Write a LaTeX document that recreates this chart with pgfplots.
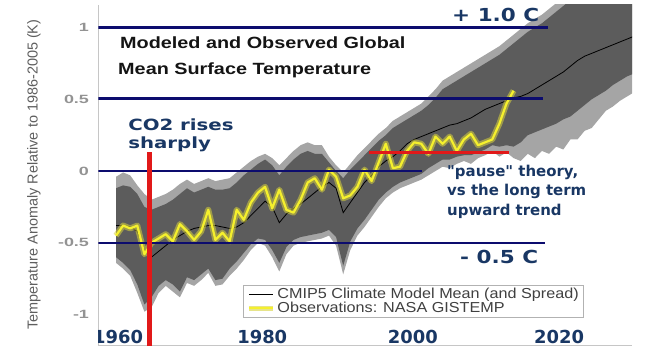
\documentclass[border=0pt]{standalone}
\usepackage{pgfplots}
\pgfplotsset{compat=1.18}
\usepackage{pgfplotstable}
\usepgfplotslibrary{fillbetween}
\usepackage{graphicx}
\usepackage{fontspec}
\setmainfont{Liberation Sans}
\newfontfamily\dejavu{DejaVu Sans}
\definecolor{navyl}{RGB}{12,12,110}
\definecolor{annblue}{RGB}{25,55,100}
\definecolor{redl}{RGB}{225,25,25}
\definecolor{bandout}{RGB}{165,165,165}
\definecolor{bandin}{RGB}{92,92,92}
\definecolor{ycore}{RGB}{245,240,45}
\definecolor{yhalo}{RGB}{215,210,60}
\definecolor{tickgray}{RGB}{95,95,95}

\pgfplotstableread{
yr lo2 lo1 hi1 hi2
1960 -0.64 -0.60 -0.12 -0.04
1961 -0.68 -0.64 -0.10 -0.01
1962 -0.73 -0.69 -0.11 -0.03
1963 -0.85 -0.79 -0.16 -0.10
1964 -0.98 -0.93 -0.25 -0.16
1965 -0.95 -0.88 -0.27 -0.20
1966 -0.85 -0.80 -0.25 -0.18
1967 -0.80 -0.76 -0.23 -0.16
1968 -0.84 -0.79 -0.20 -0.13
1969 -0.88 -0.84 -0.16 -0.09
1970 -0.78 -0.74 -0.12 -0.06
1971 -0.80 -0.76 -0.15 -0.09
1972 -0.76 -0.72 -0.13 -0.07
1973 -0.71 -0.68 -0.11 -0.05
1974 -0.80 -0.76 -0.13 -0.07
1975 -0.79 -0.75 -0.13 -0.06
1976 -0.73 -0.68 -0.12 -0.05
1977 -0.68 -0.63 -0.08 -0.01
1978 -0.62 -0.57 -0.03 0.03
1979 -0.55 -0.51 0.01 0.07
1980 -0.50 -0.47 0.05 0.10
1981 -0.52 -0.48 0.08 0.12
1982 -0.60 -0.55 0.04 0.09
1983 -0.70 -0.64 -0.03 0.04
1984 -0.58 -0.53 0.03 0.09
1985 -0.52 -0.48 0.08 0.14
1986 -0.50 -0.46 0.12 0.18
1987 -0.49 -0.45 0.14 0.20
1988 -0.48 -0.44 0.12 0.18
1989 -0.47 -0.43 0.12 0.18
1990 -0.45 -0.41 0.06 0.10
1991 -0.52 -0.46 0.00 0.04
1992 -0.72 -0.66 -0.05 -0.01
1993 -0.55 -0.49 0.01 0.05
1994 -0.45 -0.40 0.06 0.11
1995 -0.39 -0.34 0.11 0.16
1996 -0.32 -0.27 0.16 0.21
1997 -0.25 -0.20 0.21 0.26
1998 -0.19 -0.15 0.25 0.30
1999 -0.15 -0.11 0.30 0.35
2000 -0.12 -0.08 0.33 0.38
2001 -0.10 -0.06 0.36 0.41
2002 -0.08 -0.04 0.39 0.44
2003 -0.06 -0.02 0.42 0.47
2004 -0.03 0.02 0.46 0.52
2005 0.00 0.05 0.51 0.57
2006 0.03 0.08 0.57 0.63
2007 0.02 0.08 0.60 0.66
2008 0.05 0.10 0.63 0.69
2009 0.07 0.11 0.66 0.72
2010 0.05 0.11 0.69 0.75
2011 0.09 0.13 0.72 0.78
2012 0.11 0.15 0.75 0.81
2013 0.14 0.18 0.78 0.84
2014 0.10 0.17 0.81 0.87
2015 0.13 0.18 0.85 0.91
2016 0.09 0.17 0.89 0.95
2017 0.07 0.20 0.93 0.99
2018 0.12 0.25 0.97 1.03
2019 0.09 0.27 1.00 1.06
2020 0.14 0.29 1.03 1.09
2021 0.12 0.31 1.07 1.13
2022 0.17 0.33 1.11 1.17
2023 0.15 0.36 1.15 1.21
2024 0.22 0.38 1.19 1.25
2025 0.22 0.42 1.23 1.29
2026 0.28 0.46 1.27 1.33
2027 0.30 0.50 1.31 1.37
2028 0.36 0.53 1.35 1.41
2029 0.42 0.56 1.39 1.45
2030 0.45 0.60 1.43 1.49
2031 0.49 0.63 1.47 1.53
2032 0.52 0.66 1.51 1.57
2033 0.55 0.68 1.55 1.61
}\bands

\pgfplotstableread{
yr m
1960 -0.38
1961 -0.38
1962 -0.39
1963 -0.42
1964 -0.55
1965 -0.60
1966 -0.56
1967 -0.52
1968 -0.48
1969 -0.45
1970 -0.42
1971 -0.40
1972 -0.39
1973 -0.38
1974 -0.38
1975 -0.39
1976 -0.40
1977 -0.39
1978 -0.36
1979 -0.31
1980 -0.26
1981 -0.21
1982 -0.25
1983 -0.36
1984 -0.30
1985 -0.26
1986 -0.23
1987 -0.19
1988 -0.15
1989 -0.11
1990 -0.08
1991 -0.12
1992 -0.29
1993 -0.22
1994 -0.15
1995 -0.08
1996 -0.03
1997 0.03
1998 0.07
1999 0.10
2000 0.14
2001 0.19
2002 0.22
2003 0.24
2004 0.26
2005 0.28
2006 0.30
2007 0.32
2008 0.33
2009 0.35
2010 0.37
2011 0.40
2012 0.43
2013 0.45
2014 0.47
2015 0.49
2016 0.51
2017 0.52
2018 0.54
2019 0.57
2020 0.60
2021 0.63
2022 0.66
2023 0.69
2024 0.73
2025 0.77
2026 0.80
2027 0.82
2028 0.84
2029 0.86
2030 0.88
2031 0.90
2032 0.92
2033 0.94
}\meanT

\pgfplotstableread{
yr o
1960 -0.45
1961 -0.38
1962 -0.40
1963 -0.38
1964 -0.58
1965 -0.50
1966 -0.47
1967 -0.44
1968 -0.49
1969 -0.37
1970 -0.42
1971 -0.48
1972 -0.42
1973 -0.27
1974 -0.48
1975 -0.43
1976 -0.49
1977 -0.27
1978 -0.34
1979 -0.22
1980 -0.15
1981 -0.11
1982 -0.26
1983 -0.13
1984 -0.27
1985 -0.29
1986 -0.20
1987 -0.08
1988 -0.05
1989 -0.13
1990 0.01
1991 -0.04
1992 -0.19
1993 -0.17
1994 -0.11
1995 0.01
1996 -0.07
1997 0.06
1998 0.19
1999 0.02
2000 0.03
2001 0.14
2002 0.20
2003 0.19
2004 0.12
2005 0.24
2006 0.19
2007 0.24
2008 0.14
2009 0.22
2010 0.26
2011 0.18
2012 0.20
2013 0.22
2014 0.33
2015 0.47
2016 0.56
}\obs

\begin{document}
\begin{tikzpicture}[x=1bp,y=1bp]
\begin{axis}[
  at={(98.25bp,6.5bp)}, anchor=south west,
  scale only axis, width=533.9bp, height=340.5bp,
  xmin=1957.5, xmax=2032.7, ymin=-1.2158, ymax=1.157,
  axis x line*=bottom, axis y line*=left,
  axis line style={draw=gray!45, line width=0.9bp, -},
  xtick=\empty,
  ytick={-1,-0.5,0,0.5,1}, yticklabels={-1,-0.5,0,0.5,1},
  major tick length=0pt,
  yticklabel style={font=\fontsize{12}{12}\selectfont\bfseries, text=gray!85, xscale=1.5, anchor=east, inner sep=0pt, xshift=-6bp},
  legend image code/.code={\draw[#1] (0bp,0bp) -- (24bp,0bp);},
  legend style={at={(rel axis cs:0.2713,0.1778)}, anchor=north west, draw=gray!60, line width=0.7bp, fill=white,
    inner xsep=3bp, inner ysep=1bp, row sep=-2bp, font=\fontsize{14.5}{15}\selectfont\color{black!75},
    cells={anchor=west}},
]
\addplot[draw=none, name path=A, forget plot] table[x=yr,y=hi2]{\bands};
\addplot[draw=none, name path=B, forget plot] table[x=yr,y=lo2]{\bands};
\addplot[bandout, forget plot] fill between[of=A and B];
\addplot[draw=none, name path=C, forget plot] table[x=yr,y=hi1]{\bands};
\addplot[draw=none, name path=D, forget plot] table[x=yr,y=lo1]{\bands};
\addplot[bandin, forget plot] fill between[of=C and D];
\addplot[black, line width=0.8bp, forget plot] table[x=yr,y=m]{\meanT};
\addplot[yhalo, line width=6bp, opacity=0.55, line join=round, forget plot] table[x=yr,y=o]{\obs};
\addplot[ycore, line width=2.2bp, line join=round, forget plot] table[x=yr,y=o]{\obs};
% navy reference lines
\addplot[navyl, line width=2.5bp, forget plot] coordinates {(1957.5,1) (2020.8,1)};
\addplot[navyl, line width=2.5bp, forget plot] coordinates {(1957.5,0.505) (2020.1,0.505)};
\addplot[navyl, line width=2.5bp, forget plot] coordinates {(1957.5,0) (2003.1,0)};
\addplot[navyl, line width=2.5bp, forget plot] coordinates {(1957.5,-0.5) (2020.4,-0.5)};
% red markers
\addplot[redl, line width=5bp, forget plot] coordinates {(1964.7,0.132) (1964.7,-1.3)};
\addplot[redl, line width=3.5bp, forget plot] coordinates {(1995.6,0.13) (2015.4,0.13)};
% legend
\addlegendimage{black, line width=0.9bp}
\addlegendentry{\scalebox{1.12}[1]{CMIP5 Climate Model Mean (and Spread)}}
\addlegendimage{legend image code/.code={\draw[yhalo,opacity=0.6,line width=5bp] (0bp,0bp)--(24bp,0bp); \draw[ycore,line width=2bp] (0bp,0bp)--(24bp,0bp);}}
\addlegendentry{\scalebox{1.12}[1]{Observations: NASA GISTEMP}}
% x tick labels
\node[anchor=base, inner sep=0pt, font={\fontsize{18}{18}\dejavu\bfseries}, text=annblue] at (axis cs:1960.3,-1.2158) [yshift=2.5bp] {1960};
\node[anchor=base, inner sep=0pt, font={\fontsize{18}{18}\dejavu\bfseries}, text=annblue] at (axis cs:1980.6,-1.2158) [yshift=2.5bp] {1980};
\node[anchor=base, inner sep=0pt, font={\fontsize{18}{18}\dejavu\bfseries}, text=annblue] at (axis cs:2001.8,-1.2158) [yshift=2.5bp] {2000};
\node[anchor=base, inner sep=0pt, font={\fontsize{18}{18}\dejavu\bfseries}, text=annblue] at (axis cs:2022.4,-1.2158) [yshift=2.5bp] {2020};
\end{axis}
% y label
\node[rotate=90, inner sep=0pt, font=\fontsize{14.5}{14.5}\selectfont, text=tickgray] at (34,177.5) {Temperature Anomaly Relative to 1986-2005 (K)};
% title
\node[anchor=base west, inner sep=0pt, xscale=1.22, font=\fontsize{16.3}{16}\selectfont\bfseries, text=black!92] at (120,303.5) {Modeled and Observed Global};
\node[anchor=base west, inner sep=0pt, xscale=1.22, font=\fontsize{16.3}{16}\selectfont\bfseries, text=black!92] at (118,278) {Mean Surface Temperature};
% annotations
\node[anchor=base west, inner sep=0pt, xscale=1.28, font={\fontsize{15.5}{16}\dejavu\bfseries}, text=annblue] at (128,222) {CO2 rises};
\node[anchor=base west, inner sep=0pt, xscale=1.28, font={\fontsize{15.5}{16}\dejavu\bfseries}, text=annblue] at (128,204) {sharply};
\node[anchor=base west, inner sep=0pt, font={\fontsize{15}{16}\dejavu\bfseries}, text=annblue] at (447,176) {"pause" theory,};
\node[anchor=base west, inner sep=0pt, font={\fontsize{15}{16}\dejavu\bfseries}, text=annblue] at (447,157) {vs the long term};
\node[anchor=base west, inner sep=0pt, font={\fontsize{15}{16}\dejavu\bfseries}, text=annblue] at (447,137) {upward trend};
\node[anchor=base west, inner sep=0pt, xscale=1.2, font={\fontsize{18}{18}\dejavu\bfseries}, text=annblue] at (452,331) {+ 1.0 C};
\node[anchor=base west, inner sep=0pt, xscale=1.2, font={\fontsize{18}{18}\dejavu\bfseries}, text=annblue] at (460,89) {- 0.5 C};
\pgfresetboundingbox
\path[use as bounding box] (0,0) rectangle (671,352);
\end{tikzpicture}
\end{document}
